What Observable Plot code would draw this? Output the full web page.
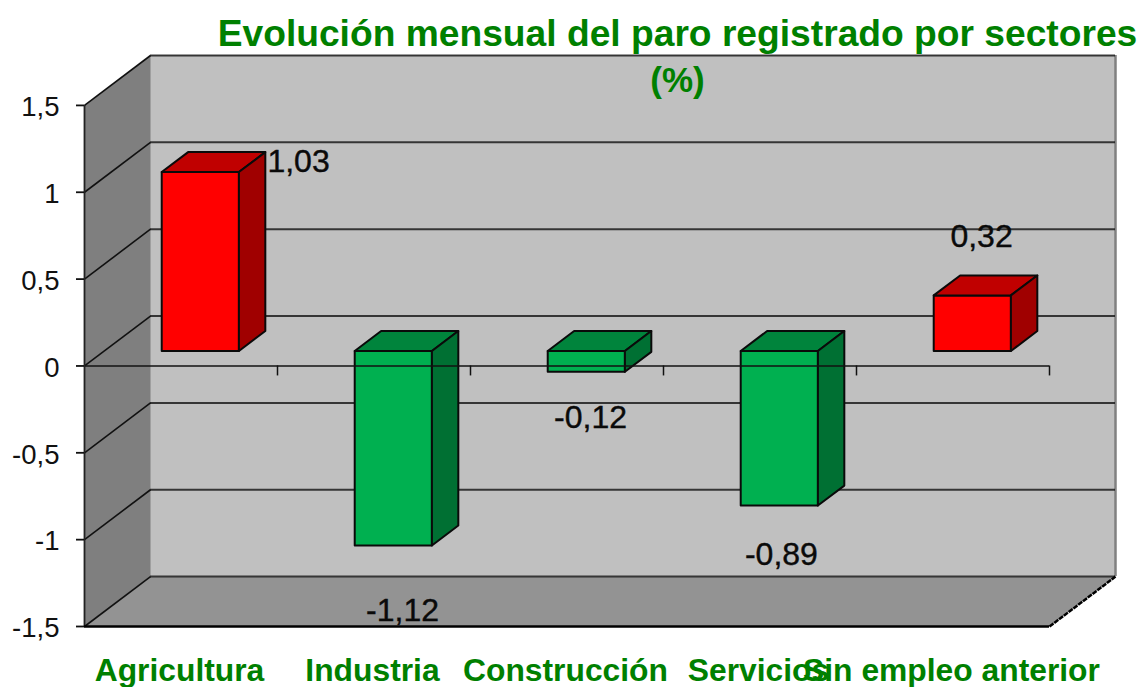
<!DOCTYPE html>
<html lang="es">
<head>
<meta charset="utf-8">
<script src="https://cdn.jsdelivr.net/npm/d3@7"></script>
<script src="https://cdn.jsdelivr.net/npm/@observablehq/plot@0.6"></script>
<style>
html,body{margin:0;padding:0;background:#fff}
svg{display:block}
</style>
</head>
<body>
<div id="chart"></div>
<script>
const categories = ["Agricultura", "Industria", "Construcción", "Servicios", "Sin empleo anterior"];
const values = [1.03, -1.12, -0.12, -0.89, 0.32];
const valueLabels = ["1,03", "-1,12", "-0,12", "-0,89", "0,32"];
const yTicks = [-1.5, -1, -0.5, 0, 0.5, 1, 1.5];
const titleLines = ["Evolución mensual del paro registrado por sectores", "(%)"];

// Oblique "3D" offset of the back wall, expressed in scale units
const DX = 66 / 193, DY = 50 / 174;
const FONT = "'Liberation Sans', Arial, sans-serif";
const GREEN = "#008000";
const n = categories.length;

const poly = (id, fill, pts) => pts.map(([x, y], k) => ({id, fill, x, y, k}));
const walls = [
  ...poly("side", "#7f7f7f", [[0, 1.5], [DX, 1.5 + DY], [DX, -1.5 + DY], [0, -1.5]]),
  ...poly("floor", "#939393", [[0, -1.5], [DX, -1.5 + DY], [n + DX, -1.5 + DY], [n, -1.5]])
];

// Bars sit between 30% and 70% of the depth, and are 40% of a category wide
const barFaces = values.flatMap((v, i) => {
  const pos = v >= 0;
  const xa = i + 0.2975 + 0.3 * DX, xb = xa + 0.4;
  const y0 = 0.3 * DY, y1 = v + 0.3 * DY;
  const hi = Math.max(y0, y1), lo = Math.min(y0, y1);
  const ox = 0.4 * DX, oy = 0.4 * DY;
  return [
    ...poly(i + "front", pos ? "#ff0000" : "#00b050", [[xa, lo], [xa, hi], [xb, hi], [xb, lo]]),
    ...poly(i + "top", pos ? "#c00000" : "#00843c", [[xa, hi], [xa + ox, hi + oy], [xb + ox, hi + oy], [xb, hi]]),
    ...poly(i + "side", pos ? "#a00000" : "#007033", [[xb, lo], [xb, hi], [xb + ox, hi + oy], [xb + ox, lo + oy]])
  ];
});

const labelRows = valueLabels.map((text, i) => ({
  text,
  x: [1.109, 1.648, 2.622, 3.611, 4.648][i],
  y: [1.175, -1.408, -0.296, -1.089, 0.744][i]
}));

const fmt = v => String(v).replace(".", ",");

const chart = Plot.plot({
  width: 1141,
  height: 687,
  marginLeft: 84,
  marginRight: 26,
  marginTop: 55,
  marginBottom: 61,
  style: {background: "#fff", fontFamily: FONT, overflow: "visible"},
  x: {domain: [0, n + DX], label: null},
  y: {domain: [-1.5, 1.5 + DY], label: null},
  color: {type: "identity"},
  marks: [
    // back wall
    Plot.rect([0], {x1: DX, x2: n + DX, y1: -1.5 + DY, y2: 1.5 + DY, fill: "#c0c0c0"}),
    // side wall and floor
    Plot.line(walls, {x: "x", y: "y", z: "id", fill: "fill", stroke: "none", curve: "linear-closed"}),
    // back wall edges
    Plot.ruleX([n + DX], {y1: -1.5 + DY, y2: 1.5 + DY, stroke: "#808080", strokeWidth: 2.5}),
    Plot.ruleY(yTicks, {x1: DX, x2: n + DX, y: v => v + DY, stroke: "#1c1c1c", strokeWidth: 2, strokeOpacity: 0.85}),
    // side wall grid lines
    Plot.link(yTicks, {x1: 0, y1: v => v, x2: DX, y2: v => v + DY, stroke: "#111", strokeWidth: 1.6}),
    Plot.link([-1.5], {x1: n, y1: v => v, x2: n + DX, y2: v => v + DY, stroke: "#000", strokeWidth: 2.5, strokeDasharray: "5 1"}),
    // bars
    Plot.line(barFaces, {x: "x", y: "y", z: "id", fill: "fill", stroke: "#0a0a0a", strokeWidth: 2, curve: "linear-closed"}),
    // zero axis with its ticks
    Plot.ruleY([0], {x1: 0, x2: n, stroke: "#111", strokeWidth: 2, strokeOpacity: 0.75}),
    Plot.ruleX(d3.range(1, n + 1), {y1: 0, y2: -10 / 174, stroke: "#111", strokeWidth: 1.5}),
    // front edges and y ticks
    Plot.ruleX([0], {y1: -1.5, y2: 1.5, stroke: "#222", strokeWidth: 1.8}),
    Plot.ruleY([-1.5], {x1: 0, x2: n, stroke: "#000", strokeWidth: 2.4}),
    Plot.ruleY(yTicks, {x1: -8 / 193, x2: 0, stroke: "#111", strokeWidth: 1.8}),
    Plot.axisY({
      ticks: yTicks, tickFormat: fmt, tickSize: 0, tickPadding: 25, dy: 2, label: null,
      fontSize: 27.5, fill: "#111"
    }),
    Plot.axisX({
      ticks: categories.map((_, i) => i + 0.5), tickFormat: t => categories[t - 0.5],
      tickSize: 0, tickPadding: 32, dx: -1.5, label: null,
      fontSize: 31.8, fontWeight: "bold", fill: GREEN, lineAnchor: "top"
    }),
    // value labels
    Plot.text(labelRows, {x: "x", y: "y", text: "text", fontSize: 32, fill: "#0a0a0a", stroke: "#0a0a0a", strokeWidth: 0.4}),
    // title
    Plot.text([titleLines[0]], {x: (677 - 84) / 193, y: (365.5 - 33) / 174, text: d => d, fontSize: 37.2, fontWeight: "bold", fill: GREEN}),
    Plot.text([titleLines[1]], {x: (677 - 84) / 193, y: (365.5 - 80) / 174, text: d => d, fontSize: 35, fontWeight: "bold", fill: GREEN})
  ]
});
document.getElementById("chart").append(chart);
</script>
</body>
</html>
